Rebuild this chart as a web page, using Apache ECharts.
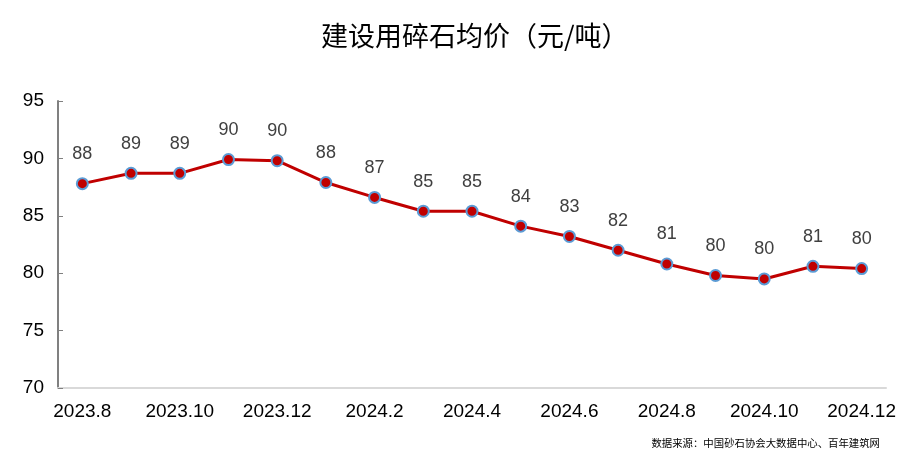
<!DOCTYPE html>
<html><head><meta charset="utf-8">
<script src="https://cdn.jsdelivr.net/npm/echarts@6/dist/echarts.min.js"></script>
<style>html,body{margin:0;padding:0;background:#fff}#c{width:909px;height:475px}</style>
</head><body><div id="c"></div>
<script>
const categories = ['2023.8','2023.9','2023.10','2023.11','2023.12','2024.1','2024.2','2024.3','2024.4','2024.5','2024.6','2024.7','2024.8','2024.9','2024.10','2024.11','2024.12'];
const prices = [87.8, 88.7, 88.7, 89.9, 89.8, 87.9, 86.6, 85.4, 85.4, 84.1, 83.2, 82.0, 80.8, 79.8, 79.5, 80.6, 80.4];
const titleText = '建设用碎石均价（元/吨）';
const sourceText = '数据来源：中国砂石协会大数据中心、百年建筑网';

const chart = echarts.init(document.getElementById('c'));
chart.setOption({
  backgroundColor: '#fff',
  title: [{
    text: titleText, left: 316, top: 17,
    textStyle: {fontFamily: 'Noto Sans CJK SC', fontSize: 27, fontWeight: 'normal', color: '#000'}
  }, {
    text: sourceText, right: 24, top: 433,
    textStyle: {fontFamily: 'Noto Sans CJK SC', fontSize: 10.4, fontWeight: 'normal', color: '#000'}
  }],
  grid: {left: 58, right: 23, top: 101, bottom: 87},
  xAxis: {
    type: 'category', data: categories, boundaryGap: true,
    axisLine: {lineStyle: {color: '#d9d9d9', width: 2}},
    axisTick: {show: false},
    axisLabel: {interval: 1, color: '#000', fontSize: 19, fontFamily: 'Liberation Sans', margin: 14}
  },
  yAxis: {
    type: 'value', min: 70, max: 95, interval: 5,
    axisLine: {show: true, lineStyle: {color: '#808080', width: 2}},
    axisTick: {show: true, inside: true, length: 5, lineStyle: {color: '#808080', width: 1}},
    splitLine: {show: false},
    axisLabel: {color: '#000', fontSize: 19, fontFamily: 'Liberation Sans', margin: 14}
  },
  series: [{
    type: 'line', data: prices,
    lineStyle: {color: '#c00000', width: 3},
    itemStyle: {color: '#c00000', borderColor: '#5b9bd5', borderWidth: 2},
    symbol: 'circle', symbolSize: 11,
    label: {show: true, position: 'top', distance: 14, color: '#404040', fontSize: 18, fontFamily: 'Liberation Sans',
      formatter: p => Math.round(p.value)},
    animation: false
  }]
});
</script></body></html>
